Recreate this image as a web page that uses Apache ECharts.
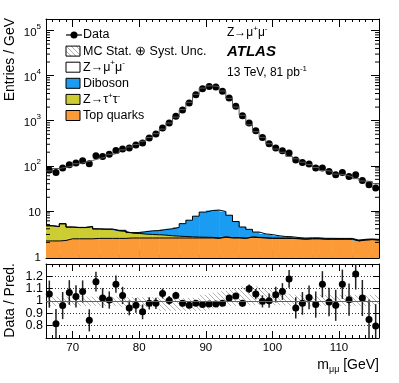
<!DOCTYPE html>
<html>
<head>
<meta charset="utf-8">
<script src="https://cdn.jsdelivr.net/npm/echarts@6/dist/echarts.min.js"></script>
<style>
  html, body { margin: 0; padding: 0; background: #fff; }
  #chart { width: 399px; height: 383px; }
</style>
</head>
<body>
<div id="chart"></div>
<script>
// 1 GeV bins, low edges
const binLow = [66, 67, 68, 69, 70, 71, 72, 73, 74, 75, 76, 77, 78, 79, 80, 81, 82, 83, 84, 85,
  86, 87, 88, 89, 90, 91, 92, 93, 94, 95, 96, 97, 98, 99, 100, 101, 102, 103, 104, 105,
  106, 107, 108, 109, 110, 111, 112, 113, 114, 115];

// entries / GeV
const dataVals = [81, 71, 89, 105, 115, 129, 111, 167, 161, 181, 218, 235, 247, 287, 320, 415, 505, 690, 890, 1250,
  1730, 2470, 3770, 5130, 5765, 5600, 4470, 3200, 2085, 1290, 890, 600, 425, 309, 247, 215, 191, 135, 118, 109,
  89, 89, 75, 63, 71, 58, 63, 47, 38, 32];

const topQuarks = [2.15, 2.15, 2.2, 2.4, 2.4, 2.4, 2.4, 2.45, 2.45, 2.45, 2.45, 2.45, 2.5, 2.5, 2.5, 2.5, 2.5, 2.5, 2.5, 2.5,
  2.5, 2.5, 2.5, 2.5, 2.5, 2.45, 2.6, 2.5, 2.5, 2.45, 2.6, 2.55, 2.5, 2.45, 2.45, 2.45, 2.45, 2.4, 2.35, 2.4,
  2.4, 2.35, 2.35, 2.35, 2.35, 2.35, 2.15, 2.25, 2.3, 2.25];
const ztautau = [2.5, 2.3, 2.95, 1.95, 1.85, 1.85, 2.05, 1.5, 1.45, 1.45, 1.15, 1.05, 0.7, 0.65, 0.55, 0.5, 0.45, 0.4, 0.3, 0.25,
  0.2, 0.15, 0.12, 0.1, 0.08, 0.07, 0.06, 0.05, 0.05, 0.04, 0.04, 0.04, 0.03, 0.03, 0.03, 0.03, 0.03, 0.03, 0.02, 0.02,
  0.02, 0.02, 0.02, 0.02, 0.02, 0.02, 0.02, 0.02, 0.02, 0.02];
const diboson = [0.05, 0.05, 0.05, 0.05, 0.05, 0.05, 0.05, 0.05, 0.05, 0.05, 0.1, 0.2, 0.1, 0.15, 0.4, 0.6, 0.7, 0.95, 1.2, 1.55,
  2.5, 3.55, 5.0, 6.8, 7.6, 7.9, 7.0, 5.45, 3.25, 1.9, 1.25, 0.8, 0.55, 0.5, 0.32, 0.22, 0.18, 0.12, 0.12, 0.1,
  0.1, 0.09, 0.09, 0.08, 0.08, 0.08, 0.07, 0.07, 0.06, 0.06];
const zmumu = [72, 82.5, 87, 94, 106.6, 115.5, 127, 140, 153, 175.5, 188, 221, 258, 294, 347, 419, 511, 646, 882, 1192,
  1758, 2554, 3835, 5274, 5897, 5728, 4547, 3117, 1999, 1311, 806, 565, 423, 305, 232, 197, 159, 140, 117.5, 103.5,
  89, 76, 73, 63, 60, 55, 49.5, 43.5, 42.3, 37.8];

// Data / Pred.
const ratioVals = [1.056, 0.816, 0.963, 1.069, 1.037, 1.077, 0.843, 1.157, 1.024, 1.008, 1.136, 1.045, 0.944, 0.965, 0.912, 0.981, 0.981, 1.061, 1.005, 1.045,
  0.981, 0.965, 0.981, 0.971, 0.976, 0.976, 0.981, 1.024, 1.04, 0.981, 1.099, 1.056, 0.997, 1.003, 1.051, 1.077, 1.179, 0.944, 0.981, 1.029,
  0.971, 1.136, 0.992, 0.965, 1.136, 1.011, 1.219, 1.024, 0.851, 0.797];
const ratioErr = [0.11, 0.12, 0.11, 0.10, 0.09, 0.09, 0.09, 0.08, 0.08, 0.07, 0.07, 0.07, 0.06, 0.06, 0.06, 0.05, 0.045, 0.04, 0.035, 0.03,
  0.025, 0.02, 0.016, 0.014, 0.013, 0.013, 0.015, 0.018, 0.022, 0.028, 0.034, 0.041, 0.049, 0.057, 0.064, 0.068, 0.072, 0.086, 0.092, 0.096,
  0.106, 0.106, 0.115, 0.126, 0.119, 0.131, 0.126, 0.146, 0.162, 0.177];
// MC stat + syst band (relative)
const mcUncUp = [0.035, 0.035, 0.035, 0.035, 0.035, 0.035, 0.035, 0.035, 0.035, 0.035, 0.035, 0.03, 0.03, 0.03, 0.03, 0.03, 0.03, 0.025, 0.025, 0.025,
  0.025, 0.025, 0.025, 0.05, 0.06, 0.07, 0.08, 0.09, 0.1, 0.12, 0.12, 0.12, 0.11, 0.1, 0.09, 0.08, 0.06, 0.05, 0.05, 0.05,
  0.05, 0.05, 0.05, 0.05, 0.05, 0.05, 0.05, 0.05, 0.05, 0.05];
const mcUncDown = [0.04, 0.04, 0.04, 0.04, 0.04, 0.04, 0.04, 0.04, 0.04, 0.04, 0.04, 0.05, 0.05, 0.05, 0.05, 0.05, 0.05, 0.08, 0.08, 0.08,
  0.08, 0.08, 0.08, 0.08, 0.07, 0.06, 0.05, 0.04, 0.04, 0.035, 0.035, 0.035, 0.035, 0.035, 0.035, 0.035, 0.04, 0.04, 0.04, 0.04,
  0.04, 0.04, 0.04, 0.04, 0.04, 0.04, 0.04, 0.04, 0.04, 0.04];

const xTickLabels = [70, 80, 90, 100, 110];
const ratioTickLabels = [0.8, 0.9, 1, 1.1, 1.2];

const xMin = 66, xMax = 116, yMin = 0.9, yMax = 1.8e5;
const fam = '"Liberation Sans", Arial, Helvetica, sans-serif';
const binHigh = binLow.map(v => v + 1);
const binMid = binLow.map(v => v + 0.5);

// stack
const s1 = topQuarks.slice();
const s2 = s1.map((v, i) => v + ztautau[i]);
const s3 = s2.map((v, i) => v + diboson[i]);
const s4 = s3.map((v, i) => v + zmumu[i]);
const s0 = binLow.map(() => yMin);

function hatchCanvas() {
  const c = document.createElement('canvas');
  c.width = 5; c.height = 5;
  const g = c.getContext('2d');
  g.strokeStyle = '#a0a0a0';
  g.lineWidth = 0.8;
  g.beginPath();
  g.moveTo(-1, -1); g.lineTo(6, 6);
  g.moveTo(-1, 4); g.lineTo(1, 6);
  g.moveTo(4, -1); g.lineTo(6, 1);
  g.stroke();
  return c;
}
const hatchFill = { image: hatchCanvas(), repeat: 'repeat' };

function layerSeries(lows, highs, fill, gi) {
  return {
    type: 'custom', xAxisIndex: gi === 0 ? 0 : 4, yAxisIndex: gi === 0 ? 0 : 2,
    silent: true, clip: true,
    data: binLow.map((x, i) => [x, binHigh[i], lows[i], highs[i]]),
    encode: { x: [0, 1], y: [2, 3] },
    renderItem(params, api) {
      const a = api.coord([api.value(0), api.value(3)]);
      const b = api.coord([api.value(1), api.value(2)]);
      return {
        type: 'rect',
        shape: { x: a[0], y: a[1], width: b[0] - a[0] + 0.5, height: b[1] - a[1] },
        style: { fill: fill }
      };
    }
  };
}

function stepLine(tops, color, width) {
  const pts = binLow.map((x, i) => [x, tops[i]]);
  pts.push([xMax, tops[tops.length - 1]]);
  return {
    type: 'line', step: 'end', xAxisIndex: 0, yAxisIndex: 0, data: pts,
    symbol: 'none', silent: true, lineStyle: { color: color, width: width }
  };
}

// log minor ticks 2..9 per decade
const minorLog = [];
for (let k = 0; k <= 5; k++) {
  for (let m = 2; m <= 9; m++) {
    const v = m * Math.pow(10, k);
    if (v < yMax) minorLog.push([xMin, v]);
  }
}

function xAxisPair(gi, pos, showLabel, minorLen, majorLen) {
  const base = {
    type: 'value', gridIndex: gi, min: xMin, max: xMax, position: pos,
    splitLine: { show: false }
  };
  return [
    Object.assign({}, base, {
      interval: 1,
      axisLine: { show: true, lineStyle: { color: '#000', width: 1 } },
      axisTick: { show: true, inside: true, length: minorLen, lineStyle: { color: '#000' } },
      axisLabel: showLabel ? {
        show: true, customValues: xTickLabels, margin: 4, hideOverlap: false,
        fontFamily: fam, fontSize: 11.5, color: '#000'
      } : { show: false }
    }),
    Object.assign({}, base, {
      axisLine: { show: false },
      axisTick: { show: true, inside: true, length: majorLen, customValues: xTickLabels, lineStyle: { color: '#000' } },
      axisLabel: { show: false }
    })
  ];
}

const xAxes = [].concat(
  xAxisPair(0, 'bottom', false, 3, 8),
  xAxisPair(0, 'top', false, 3, 8),
  xAxisPair(1, 'bottom', true, 3, 7),
  xAxisPair(1, 'top', false, 3, 7)
);
// index 0 = grid0 bottom, 4 = grid1 bottom

function logLabel(v) {
  const k = Math.round(Math.log10(v));
  if (Math.abs(v - Math.pow(10, k)) > 1e-6 * v) return '';
  if (k === 0) return '{b|1}';
  if (k === 1) return '{b|10}';
  return '{b|10}{s|' + k + '}';
}

const yAxes = [
  {
    type: 'log', logBase: 10, gridIndex: 0, min: yMin, max: yMax, position: 'left',
    axisLine: { show: true, lineStyle: { color: '#000' } },
    axisTick: { show: true, inside: true, length: 8, lineStyle: { color: '#000' } },
    splitLine: { show: false },
    axisLabel: {
      show: true, margin: 5, formatter: logLabel, color: '#000', hideOverlap: false,
      rich: {
        b: { fontFamily: fam, fontSize: 11.5, lineHeight: 16, verticalAlign: 'bottom', color: '#000' },
        s: { fontFamily: fam, fontSize: 8, lineHeight: 9, verticalAlign: 'top', color: '#000' }
      }
    }
  },
  {
    type: 'log', logBase: 10, gridIndex: 0, min: yMin, max: yMax, position: 'right',
    axisLine: { show: true, lineStyle: { color: '#000' } },
    axisTick: { show: true, inside: true, length: 8, lineStyle: { color: '#000' } },
    splitLine: { show: false }, axisLabel: { show: false }
  },
  {
    type: 'value', gridIndex: 1, min: 0.7, max: 1.3, interval: 0.1, position: 'left',
    axisLine: { show: true, lineStyle: { color: '#000' } },
    axisTick: { show: true, inside: true, length: 6, customValues: ratioTickLabels, lineStyle: { color: '#000' } },
    splitLine: { show: false },
    axisLabel: { show: false }   // labels placed below from the axis scale
  },
  {
    type: 'value', gridIndex: 1, min: 0.7, max: 1.3, interval: 0.1, position: 'right',
    axisLine: { show: true, lineStyle: { color: '#000' } },
    axisTick: { show: true, inside: true, length: 6, customValues: ratioTickLabels, lineStyle: { color: '#000' } },
    splitLine: { show: false }, axisLabel: { show: false }
  }
];

const series = [
  layerSeries(s0, s1, '#fb9a36', 0),
  layerSeries(s1, s2, '#cccc33', 0),
  layerSeries(s2, s3, '#1a9cf2', 0),
  stepLine(s1, '#000', 1),
  stepLine(s2, '#000', 1),
  stepLine(s3, '#000', 1),
  stepLine(s4, '#555', 1),
  {
    type: 'custom', xAxisIndex: 0, yAxisIndex: 0, silent: true, clip: false,
    data: minorLog, encode: { x: 0, y: 1 },
    renderItem(params, api) {
      const a = api.coord([xMin, api.value(1)]);
      const b = api.coord([xMax, api.value(1)]);
      const st = { stroke: '#000', lineWidth: 1 };
      return {
        type: 'group', children: [
          { type: 'line', shape: { x1: a[0], y1: a[1], x2: a[0] + 4, y2: a[1] }, style: st },
          { type: 'line', shape: { x1: b[0] - 4, y1: b[1], x2: b[0], y2: b[1] }, style: st }
        ]
      };
    }
  },
  {
    type: 'scatter', xAxisIndex: 0, yAxisIndex: 0, silent: true,
    data: binMid.map((x, i) => [x, dataVals[i]]),
    symbol: 'circle', symbolSize: 7, itemStyle: { color: '#000', opacity: 1 }
  },
  // ratio panel
  Object.assign(layerSeries(mcUncDown.map(u => 1 - u), mcUncUp.map(u => 1 + u), hatchFill, 1), {
    markLine: {
      silent: true, symbol: 'none', label: { show: false },
      data: [
        { yAxis: 0.8, lineStyle: { type: [1, 2], color: '#000', width: 0.8 } },
        { yAxis: 0.9, lineStyle: { type: [1, 2], color: '#000', width: 0.8 } },
        { yAxis: 1.1, lineStyle: { type: [1, 2], color: '#000', width: 0.8 } },
        { yAxis: 1.2, lineStyle: { type: [1, 2], color: '#000', width: 0.8 } },
        { yAxis: 1, lineStyle: { type: 'solid', color: '#e3272b', width: 1.2 } }
      ]
    }
  }),
  {
    type: 'custom', xAxisIndex: 4, yAxisIndex: 2, silent: true, clip: true,
    data: binMid.map((x, i) => [x, ratioVals[i], ratioErr[i]]),
    encode: { x: 0, y: 1 },
    renderItem(params, api) {
      const x = api.value(0), r = api.value(1), e = api.value(2);
      const t = api.coord([x, r + e]);
      const b = api.coord([x, r - e]);
      return {
        type: 'line', shape: { x1: t[0], y1: t[1], x2: b[0], y2: b[1] },
        style: { stroke: '#222', lineWidth: 1.5 }
      };
    }
  },
  {
    type: 'scatter', xAxisIndex: 4, yAxisIndex: 2, silent: true,
    data: binMid.map((x, i) => [x, ratioVals[i]]),
    symbol: 'circle', symbolSize: 7, itemStyle: { color: '#000', opacity: 1 }
  }
];

// legend + labels
const legendRows = [
  { kind: 'data', text: 'Data' },
  { kind: 'box', fill: hatchFill, text: 'MC Stat. ⊕ Syst. Unc.' },
  { kind: 'box', fill: '#fff', text: 'Z→μ{s|+}μ{s|-}' },
  { kind: 'box', fill: '#1a9cf2', text: 'Diboson' },
  { kind: 'box', fill: '#cccc33', text: 'Z→τ{s|+}τ{s|-}' },
  { kind: 'box', fill: '#fb9a36', text: 'Top quarks' }
];
const supRich = {
  s: { fontFamily: fam, fontSize: 8, lineHeight: 9, verticalAlign: 'top', fill: '#000' }
};
const graphic = [];
legendRows.forEach((row, k) => {
  const cy = 35 + 16.1 * k;
  if (row.kind === 'data') {
    graphic.push({ type: 'line', shape: { x1: 66, y1: cy, x2: 82, y2: cy }, style: { stroke: '#000', lineWidth: 1.2 } });
    graphic.push({ type: 'circle', shape: { cx: 74, cy: cy, r: 3.5 }, style: { fill: '#000' } });
  } else {
    graphic.push({ type: 'rect', shape: { x: 66, y: cy - 5, width: 14, height: 10 }, style: { fill: row.fill, stroke: '#000', lineWidth: 1 } });
  }
  graphic.push({
    type: 'text', x: 83, y: cy,
    style: {
      text: row.text, fontFamily: fam, fontSize: 12.5, fill: '#000',
      align: 'left', verticalAlign: 'middle', lineHeight: 16, rich: supRich
    }
  });
});
graphic.push(
  { type: 'text', x: 227, y: 33, style: { text: 'Z→μ{s|+}μ{s|-}', fontFamily: fam, fontSize: 12, fill: '#000', align: 'left', verticalAlign: 'middle', lineHeight: 16, rich: supRich } },
  { type: 'text', x: 227, y: 52, style: { text: 'ATLAS', fontFamily: fam, fontSize: 15, fontWeight: 'bold', fontStyle: 'italic', fill: '#000', align: 'left', verticalAlign: 'middle' } },
  { type: 'text', x: 227, y: 73, style: { text: '13 TeV, 81 pb{s|-1}', fontFamily: fam, fontSize: 12, fill: '#000', align: 'left', verticalAlign: 'middle', lineHeight: 16, rich: supRich } },
  { type: 'text', x: 10, y: 18, rotation: Math.PI / 2, style: { text: 'Entries / GeV', fontFamily: fam, fontSize: 14, fill: '#000', align: 'right', verticalAlign: 'middle' } },
  { type: 'text', x: 10, y: 263, rotation: Math.PI / 2, style: { text: 'Data / Pred.', fontFamily: fam, fontSize: 14, fill: '#000', align: 'right', verticalAlign: 'middle' } },
  {
    type: 'text', x: 379, y: 365,
    style: {
      text: 'm{u|μμ} [GeV]', fontFamily: fam, fontSize: 14, fill: '#000', align: 'right', verticalAlign: 'middle', lineHeight: 18,
      rich: { u: { fontFamily: fam, fontSize: 9, lineHeight: 10, verticalAlign: 'bottom', fill: '#000' } }
    }
  }
);

const chart = echarts.init(document.getElementById('chart'), null, { renderer: 'canvas' });
chart.setOption({
  animation: false,
  backgroundColor: '#fff',
  grid: [
    { left: 46, right: 20, top: 19, height: 239 },
    { left: 46, right: 20, top: 264, height: 74 }
  ],
  xAxis: xAxes,
  yAxis: yAxes,
  series: series
});

// ratio y tick labels, positioned through the ratio axis scale
ratioTickLabels.forEach(v => {
  const p = chart.convertToPixel({ xAxisIndex: 4, yAxisIndex: 2 }, [xMin, v]);
  graphic.push({
    type: 'text', x: p[0] - 3, y: p[1],
    style: { text: String(v), fontFamily: fam, fontSize: 12.5, fill: '#000', align: 'right', verticalAlign: 'middle' }
  });
});
chart.setOption({ graphic: graphic });
</script>
</body>
</html>
